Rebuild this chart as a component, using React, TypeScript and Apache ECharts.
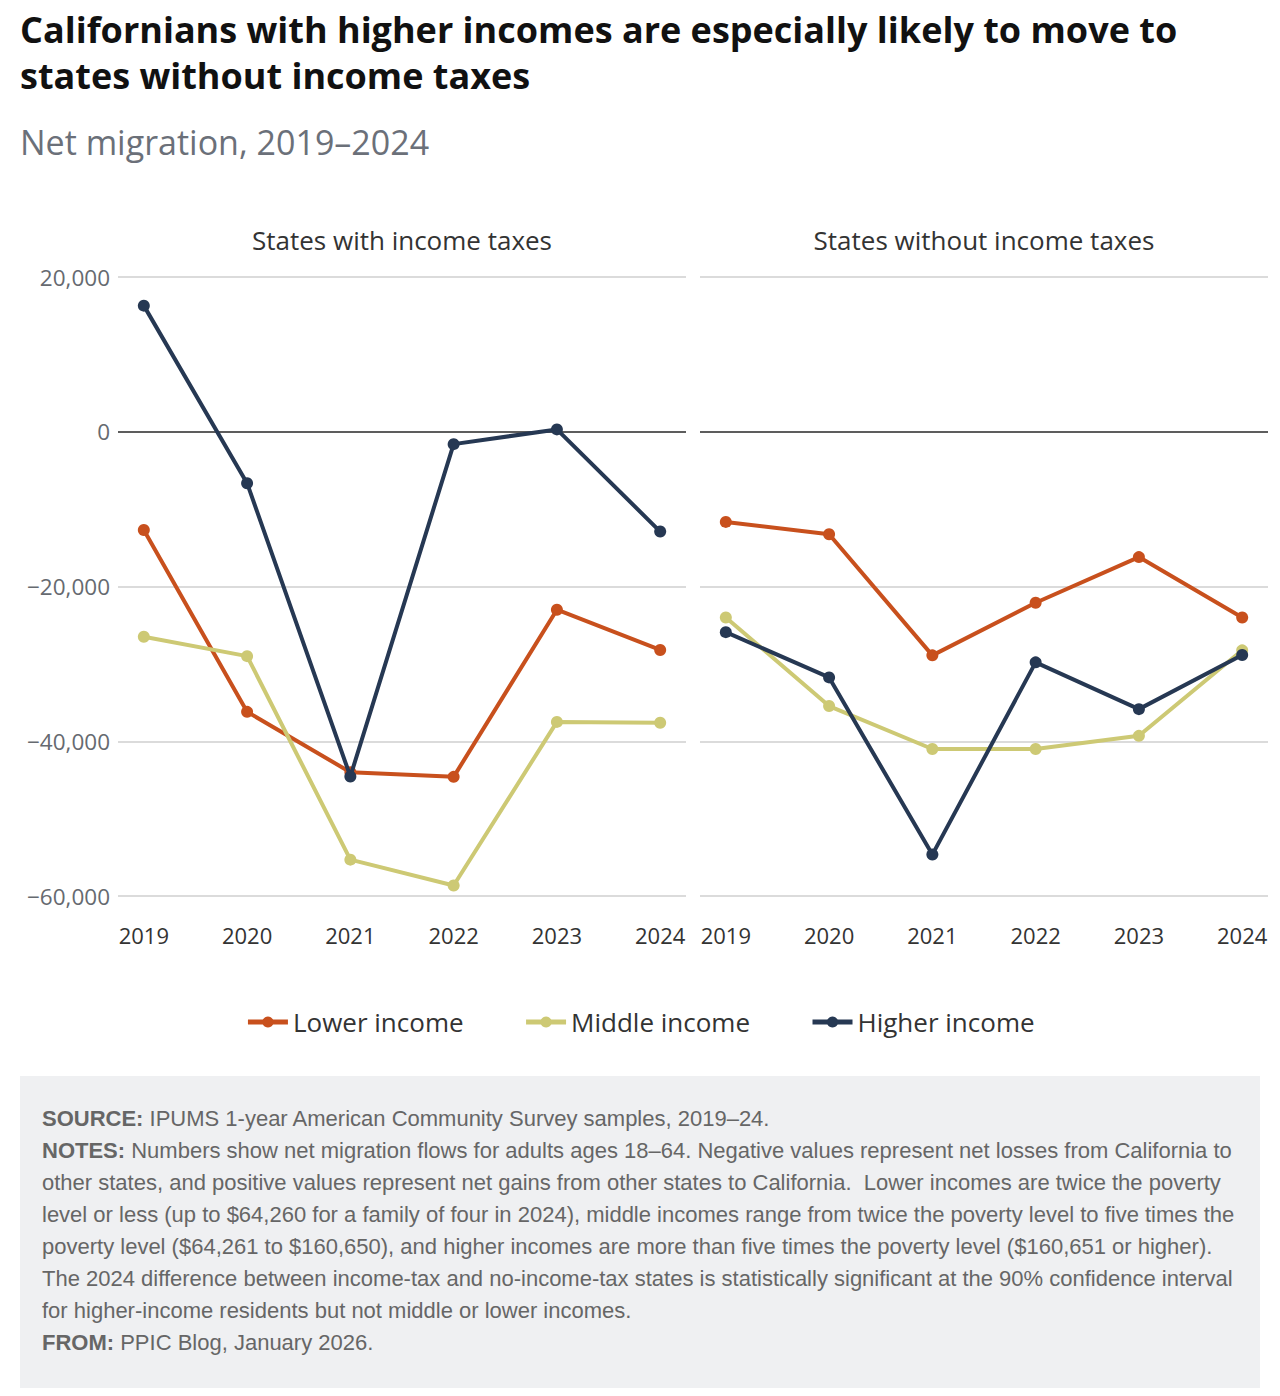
import React, { useEffect, useRef } from "react";
import * as echarts from "echarts";

// Years shown on both panels
const years = [2019, 2020, 2021, 2022, 2023, 2024];

// Net migration, states with income taxes
const withTaxLower = [-12700, -36200, -44000, -44600, -23000, -28200];
const withTaxMiddle = [-26500, -29000, -55300, -58650, -37500, -37600];
const withTaxHigher = [16300, -6650, -44550, -1600, 300, -12900];

// Net migration, states without income taxes
const noTaxLower = [-11650, -13250, -28900, -22100, -16200, -24000];
const noTaxMiddle = [-24000, -35450, -41000, -41000, -39300, -28250];
const noTaxHigher = [-25900, -31750, -54650, -29800, -35850, -28850];

const seriesNames = ["Lower income", "Middle income", "Higher income"];
const seriesColors = ["#c8501d", "#cdc974", "#263853"];

const yTicks = [-60000, -40000, -20000, 0, 20000];

const titleLines = [
  "Californians with higher incomes are especially likely to move to",
  "states without income taxes",
];
const subtitle = "Net migration, 2019–2024";
const panelTitles = ["States with income taxes", "States without income taxes"];

const footerLines = [
  "{b|SOURCE:} IPUMS 1-year American Community Survey samples, 2019–24.",
  "{b|NOTES:} Numbers show net migration flows for adults ages 18–64. Negative values represent net losses from California to",
  "other states, and positive values represent net gains from other states to California.  Lower incomes are twice the poverty",
  "level or less (up to $64,260 for a family of four in 2024), middle incomes range from twice the poverty level to five times the",
  "poverty level ($64,261 to $160,650), and higher incomes are more than five times the poverty level ($160,651 or higher).",
  "The 2024 difference between income-tax and no-income-tax states is statistically significant at the 90% confidence interval",
  "for higher-income residents but not middle or lower incomes.",
  "{b|FROM:} PPIC Blog, January 2026.",
];

const HEAD_FONT = "'Open Sans', Lato, sans-serif";
const NOTE_FONT = "'Liberation Sans', Arial, sans-serif";

export default function App() {
  const ref = useRef<HTMLDivElement>(null);

  useEffect(() => {
    document.body.style.margin = "0";
    if (!ref.current) return;
    const chart = echarts.init(ref.current, undefined, { renderer: "svg" });

    const panels = [
      [withTaxLower, withTaxMiddle, withTaxHigher],
      [noTaxLower, noTaxMiddle, noTaxHigher],
    ];

    const grids = [
      { left: 118, top: 277, width: 568, height: 619 },
      { left: 700, top: 277, width: 568, height: 619 },
    ];

    const xAxes = grids.map((_, i) => ({
      type: "value" as const,
      gridIndex: i,
      min: 2018.75,
      max: 2024.25,
      axisLine: { show: false },
      axisTick: { show: false },
      splitLine: { show: false },
      axisLabel: {
        customValues: years,
        formatter: (v: number) => String(v),
        color: "#333333",
        fontSize: 22,
        fontFamily: HEAD_FONT,
        margin: 28,
      },
    }));

    const yAxes = grids.map((_, i) => ({
      type: "value" as const,
      gridIndex: i,
      min: yTicks[0],
      max: yTicks[yTicks.length - 1],
      interval: 20000,
      axisLine: { show: false },
      axisTick: { show: false },
      splitLine: { show: true, lineStyle: { color: "#cfcfcf", width: 1.5 } },
      axisLabel: {
        show: i === 0,
        color: "#666a70",
        fontSize: 22.5,
        fontFamily: HEAD_FONT,
        margin: 8,
        formatter: (v: number) =>
          v < 0 ? "\u2212" + Math.abs(v).toLocaleString("en-US") : v.toLocaleString("en-US"),
      },
    }));

    const series: any[] = [];
    panels.forEach((panel, p) => {
      panel.forEach((values, s) => {
        series.push({
          type: "line",
          name: seriesNames[s],
          xAxisIndex: p,
          yAxisIndex: p,
          data: years.map((y, k) => [y, values[k]]),
          symbol: "circle",
          symbolSize: 12,
          lineStyle: { width: 4, color: seriesColors[s] },
          itemStyle: { color: seriesColors[s] },
          z: 3 + s,
          markLine:
            s === 0
              ? {
                  silent: true,
                  symbol: ["none", "none"],
                  label: { show: false },
                  lineStyle: { color: "#333333", width: 1.5, type: "solid" },
                  data: [{ yAxis: 0 }],
                  z: 1,
                }
              : undefined,
        });
      });
    });

    const graphic: any[] = [
      ...titleLines.map((t, i) => ({
        type: "text",
        x: 20,
        y: 29 + i * 46,
        style: {
          text: t,
          fontSize: 36,
          fontWeight: "bold",
          fontFamily: HEAD_FONT,
          fill: "#111111",
          verticalAlign: "middle",
        },
      })),
      {
        type: "text",
        x: 20,
        y: 142,
        style: {
          text: subtitle,
          fontSize: 34,
          fontFamily: HEAD_FONT,
          fill: "#6b7079",
          verticalAlign: "middle",
        },
      },
      ...panelTitles.map((t, i) => ({
        type: "text",
        x: grids[i].left + grids[i].width / 2,
        y: 240,
        style: {
          text: t,
          fontSize: 26,
          fontFamily: HEAD_FONT,
          fill: "#333333",
          align: "center",
          verticalAlign: "middle",
        },
      })),
      {
        type: "rect",
        shape: { x: 20, y: 1076, width: 1240, height: 312 },
        style: { fill: "#eff0f2" },
        z: -1,
      },
      ...footerLines.map((line, i) => ({
        type: "text",
        x: 42,
        y: 1118 + i * 32.1,
        style: {
          text: line,
          fontSize: 22,
          fontFamily: NOTE_FONT,
          fill: "#666666",
          verticalAlign: "middle",
          rich: {
            b: {
              fontSize: 22,
              fontFamily: NOTE_FONT,
              fontWeight: "bold",
              fill: "#666666",
            },
          },
        },
      })),
    ];

    chart.setOption({
      animation: false,
      grid: grids,
      xAxis: xAxes,
      yAxis: yAxes,
      legend: {
        data: seriesNames,
        left: "center",
        top: 1004,
        itemWidth: 40,
        itemHeight: 14,
        itemGap: 60,
        lineStyle: { width: 5 },
        textStyle: { fontSize: 26, color: "#333333", fontFamily: HEAD_FONT },
      },
      series,
      graphic,
    });

    return () => chart.dispose();
  }, []);

  return <div ref={ref} style={{ width: 1280, height: 1396 }} />;
}
